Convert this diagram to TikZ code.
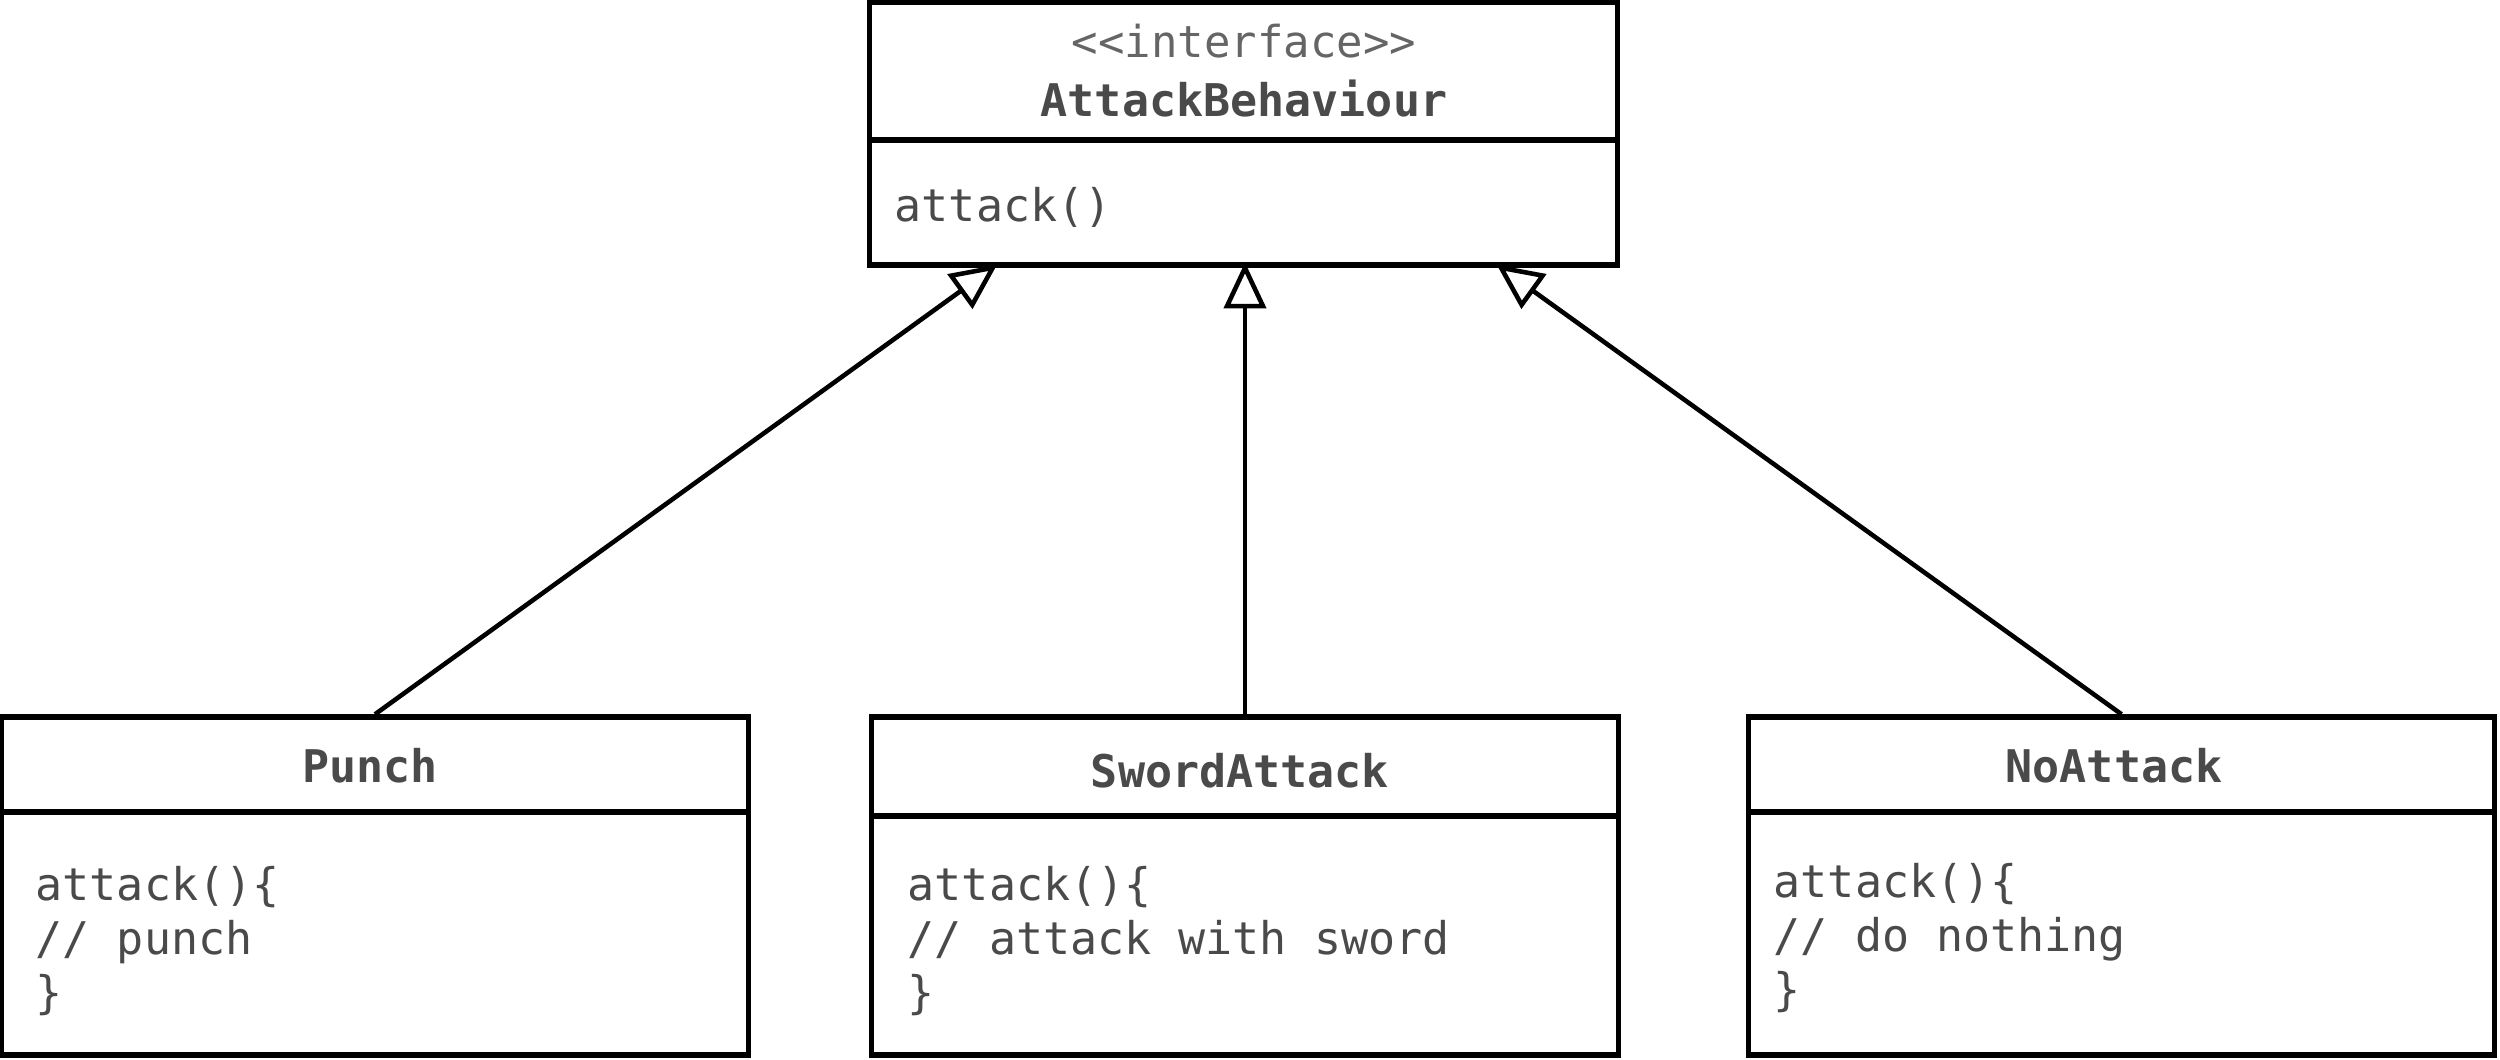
\documentclass[tikz,border=0pt]{standalone}
\usepackage{fontspec}
\setmonofont{DejaVu Sans Mono}
\usetikzlibrary{arrows.meta,calc}
\definecolor{txt}{HTML}{4A4A4A}
\tikzset{
 umlbox/.style={draw=black, line width=1.5pt, minimum width=7.46cm, minimum height=3.38cm, inner sep=0pt},
 titletext/.style={anchor=base, font=\ttfamily\bfseries\fontsize{12.8}{15}\selectfont, text=txt, inner sep=0pt},
 stereo/.style={anchor=base, font=\ttfamily\fontsize{12.5}{15}\selectfont, text=txt!85, inner sep=0pt},
 body/.style={anchor=base west, font=\ttfamily\fontsize{12.8}{15.4}\selectfont, text=txt, inner sep=0pt},
 sepline/.style={line width=1.5pt},
 inherit/.style={line width=1.3pt, shorten >=-1.5pt, -{Triangle[open, length=0.46cm, width=0.42cm, line width=1.3pt]}},
}
\begin{document}
\begin{tikzpicture}[x=0.01cm, y=-0.01cm]
\useasboundingbox (0,0) rectangle (2500,1059);
% boxes
\node[umlbox, minimum width=7.47cm, minimum height=2.63cm] (iface) at (1243.5,133.5) {};
\node[umlbox] (punch) at (375,886) {};
\node[umlbox] (sword) at (1245,886) {};
\node[umlbox, minimum width=7.45cm] (noatt) at (2121.5,886) {};
% dividers
\draw[sepline] (iface.west |- 0,140) -- (iface.east |- 0,140);
\draw[sepline] (punch.west |- 0,812) -- (punch.east |- 0,812);
\draw[sepline] (sword.west |- 0,816) -- (sword.east |- 0,816);
\draw[sepline] (noatt.west |- 0,812) -- (noatt.east |- 0,812);
% interface texts
\node[stereo] (st) at (1244,57) {<{}<interface>{}>};
\node[titletext] (ifname) at (1244,116) {AttackBehaviour};
\node[body] (ifop) at (894,221) {attack()};
% Punch
\node[titletext] (pname) at (370,782) {Punch};
\node[body] (p1) at (35,900) {attack()\{};
\node[body] (p2) at (35,954) {// punch};
\node[body] (p3) at (35,1008) {\}};
% SwordAttack
\node[titletext] (sname) at (1240,787) {SwordAttack};
\node[body] (s1) at (907,900) {attack()\{};
\node[body] (s2) at (907,954) {// attack with sword};
\node[body] (s3) at (907,1008) {\}};
% NoAttack
\node[titletext] (nname) at (2114,782) {NoAttack};
\node[body] (n1) at (1773,897) {attack()\{};
\node[body] (n2) at (1773,951) {// do nothing};
\node[body] (n3) at (1773,1005) {\}};
% inheritance arrows
\draw[inherit] (punch.north) -- ($(iface.south west)!0.167!(iface.south east)$);
\draw[inherit] (sword.north) -- (sword.north |- iface.south);
\draw[inherit] (noatt.north) -- ($(iface.south west)!0.842!(iface.south east)$);
\end{tikzpicture}
\end{document}
